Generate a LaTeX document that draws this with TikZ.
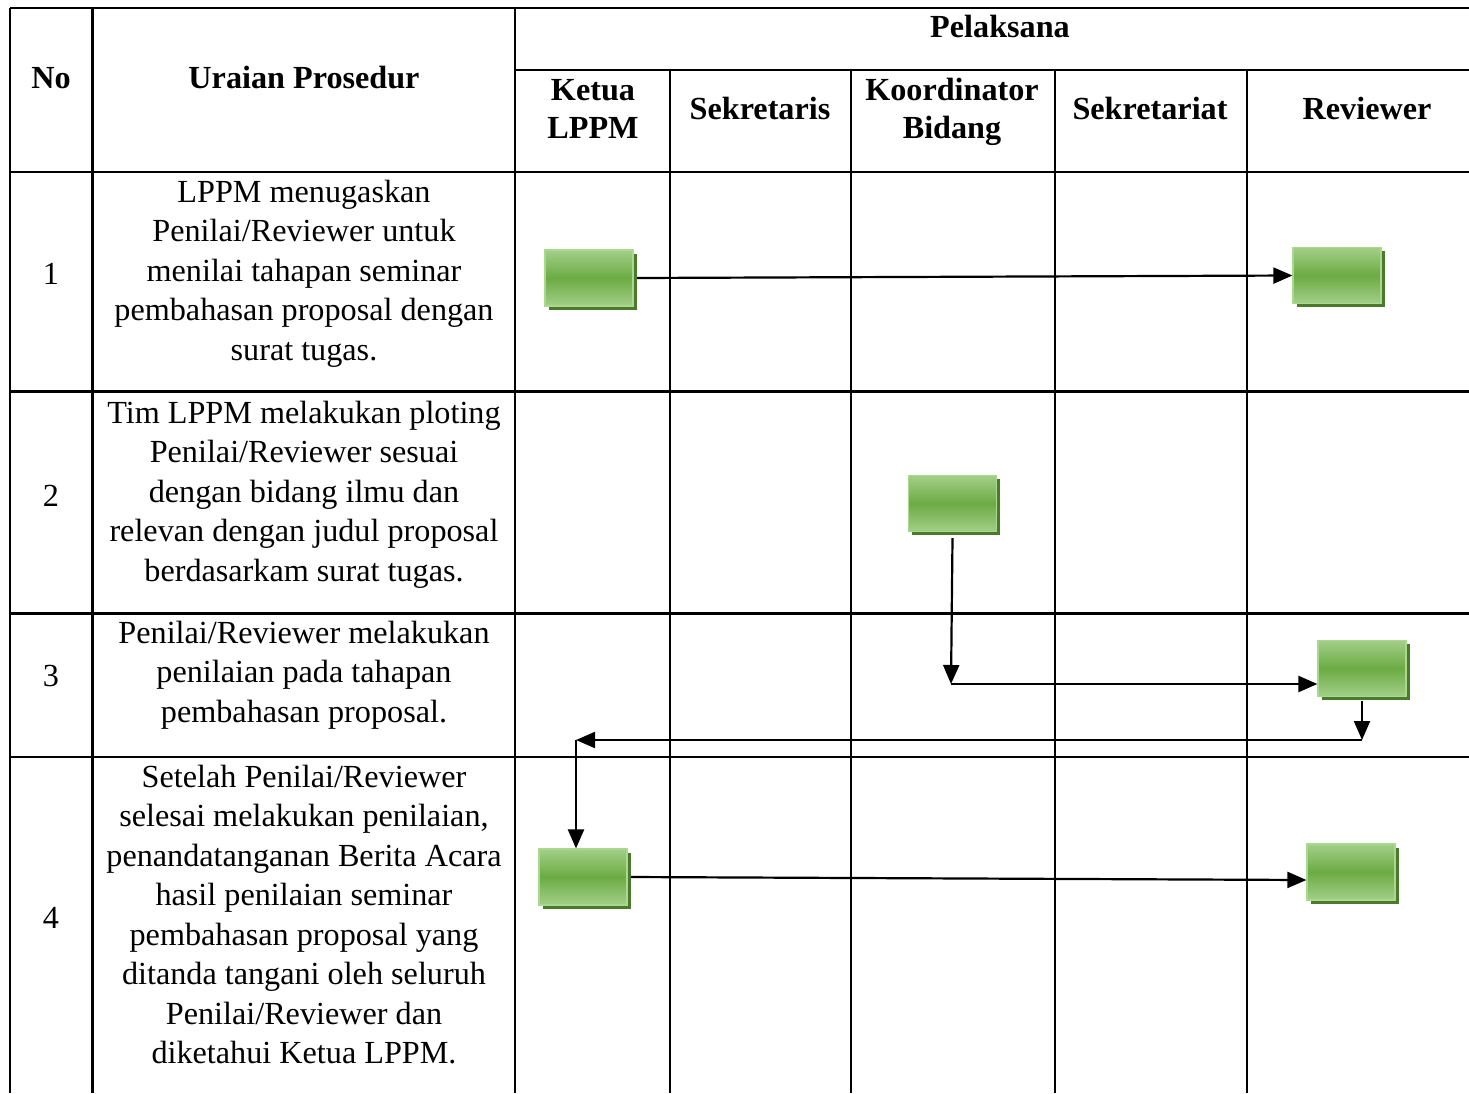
\documentclass[tikz,border=0pt]{standalone}
\usepackage{fontspec}
\setmainfont{Liberation Serif}
\usetikzlibrary{arrows.meta,shadows}
\definecolor{gmid}{HTML}{6CAB44}
\definecolor{glight}{HTML}{A3CF88}
\definecolor{gborder}{HTML}{A9D88E}
\definecolor{gshadow}{HTML}{4B7A2C}
\tikzset{
  gridline/.style={line width=2.4pt},
  act/.style={draw=gborder, line width=1.2pt, minimum width=88pt, minimum height=56pt,
    inner sep=0pt, top color=glight, bottom color=glight, middle color=gmid,
    drop shadow={shadow xshift=3.5pt, shadow yshift=-3.5pt, fill=gshadow, opacity=1}},
  flow/.style={line width=2.2pt, -{Triangle[length=19pt,width=16pt]}},
  body/.style={anchor=base, inner sep=0pt, font=\fontsize{32.2}{39.5}\selectfont},
  head/.style={anchor=base, inner sep=0pt, font=\fontsize{32.2}{38}\selectfont\bfseries},
}
\begin{document}
\begin{tikzpicture}[x=1pt,y=1pt]
\useasboundingbox (0,0) rectangle (1469,-1093);
% table grid
\draw[gridline] (10,-8) -- (1469,-8);
\draw[gridline] (515,-70) -- (1469,-70);
\draw[gridline] (10,-172) -- (1469,-172);
\draw[gridline] (10,-391.5) -- (1469,-391.5);
\draw[gridline] (10,-613.5) -- (1469,-613.5);
\draw[gridline] (10,-757) -- (1469,-757);
\draw[gridline] (10,-8) -- (10,-1093);
\draw[gridline] (92.5,-8) -- (92.5,-1093);
\draw[gridline] (515,-8) -- (515,-1093);
\draw[gridline] (670,-70) -- (670,-1093);
\draw[gridline] (851,-70) -- (851,-1093);
\draw[gridline] (1055,-70) -- (1055,-1093);
\draw[gridline] (1247,-70) -- (1247,-1093);
% header
\node[head] (hno) at (51,-88) {No};
\node[head] (hur) at (304,-88) {Uraian Prosedur};
\node[head] (hpel) at (1000,-37) {Pelaksana};
\node[head] (hket) at (593,-100) {\begin{tabular}[t]{@{}c@{}}Ketua\\LPPM\end{tabular}};
\node[head] (hsek) at (760,-119) {Sekretaris};
\node[head] (hkoo) at (952,-100) {\begin{tabular}[t]{@{}c@{}}Koordinator\\Bidang\end{tabular}};
\node[head] (hset) at (1150,-119) {Sekretariat};
\node[head] (hrev) at (1367,-119) {Reviewer};
% numbers
\node[body] (n1) at (51,-284) {1};
\node[body] (n2) at (51,-506) {2};
\node[body] (n3) at (51,-686) {3};
\node[body] (n4) at (51,-928) {4};
% descriptions
\node[body] (t1) at (304,-202) {\begin{tabular}[t]{@{}c@{}}LPPM menugaskan\\Penilai/Reviewer untuk\\menilai tahapan seminar\\pembahasan proposal dengan\\surat tugas.\end{tabular}};
\node[body] (t2) at (304,-423) {\begin{tabular}[t]{@{}c@{}}Tim LPPM melakukan ploting\\Penilai/Reviewer sesuai\\dengan bidang ilmu dan\\relevan dengan judul proposal\\berdasarkam surat tugas.\end{tabular}};
\node[body] (t3) at (304,-643) {\begin{tabular}[t]{@{}c@{}}Penilai/Reviewer melakukan\\penilaian pada tahapan\\pembahasan proposal.\end{tabular}};
\node[body] (t4) at (304,-787) {\begin{tabular}[t]{@{}c@{}}Setelah Penilai/Reviewer\\selesai melakukan penilaian,\\penandatanganan Berita Acara\\hasil penilaian seminar\\pembahasan proposal yang\\ditanda tangani oleh seluruh\\Penilai/Reviewer dan\\diketahui Ketua LPPM.\end{tabular}};
% activity boxes
\node[act] (A) at (589,-278) {};
\node[act] (B) at (1337,-275.5) {};
\node[act] (C) at (952.5,-503.5) {};
\node[act] (D) at (1362,-668.5) {};
\node[act] (E) at (583,-877) {};
\node[act] (F) at (1351,-872) {};
% connectors
\coordinate (c1) at (951,-684);
\coordinate (c2) at (1362,-740);
\coordinate (c3) at (576,-740);
\draw[flow] ([xshift=3.5pt]A.east) -- (B.west);
\draw[flow] ([yshift=-6pt]C.south) -- (c1);
\draw[flow] (c1) -- (c1 -| D.west);
\draw[flow] ([yshift=-3.5pt]D.south) -- (c2);
\draw[flow] (c2) -- (c3);
\draw[flow] (c3) -- (c3 |- E.north);
\draw[flow] ([xshift=3.5pt]E.east) -- ([yshift=-8pt]F.west);
\end{tikzpicture}
\end{document}
